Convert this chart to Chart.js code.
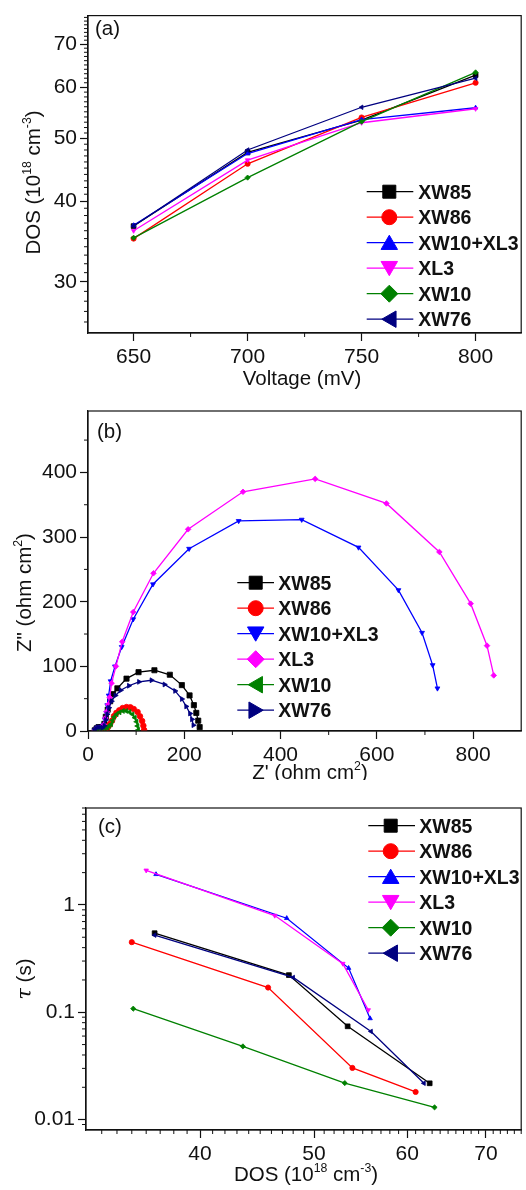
<!DOCTYPE html>
<html><head><meta charset="utf-8">
<script src="https://cdn.jsdelivr.net/npm/chart.js@4"></script>
<style>
html,body{margin:0;padding:0;background:#fff;width:526px;height:1190px;overflow:hidden}
.p{position:absolute;left:0;width:526px}
canvas{display:block}
</style></head><body>
<div class="p" style="top:0;height:390px"><canvas id="ca" width="526" height="390"></canvas></div>
<div class="p" style="top:390px;height:390px"><canvas id="cb" width="526" height="390"></canvas></div>
<div class="p" style="top:780px;height:410px"><canvas id="cc" width="526" height="410"></canvas></div>
<script>
// ---------------- DATA ----------------
const seriesNames = ['XW85', 'XW86', 'XW10+XL3', 'XL3', 'XW10', 'XW76'];
const voltages = [650, 700, 750, 800];

// (a) DOS (10^18 cm^-3) vs voltage
const dosXW85   = [36.6, 47.6, 53.4, 62.7];
const dosXW86   = [35.0, 45.7, 53.9, 61.0];
const dosXW10XL3 = [36.7, 47.4, 53.5, 55.8];
const dosXL3    = [36.0, 46.3, 52.9, 55.6];
const dosXW10   = [35.1, 43.5, 53.1, 63.3];
const dosXW76   = [36.6, 48.0, 55.9, 62.0];

// (b) Nyquist: [Z', Z''] (ohm cm2)
const eisXW85 = [[14,1],[18,4],[22,6],[27,6],[31,6],[34,11],[37,22],[41,33],[46,46],[52,57],[61,66],[80,81],[105,91],[138,94],[170,87],[195,71],[211,55],[220,40],[225,28],[229,16],[232,6]];
const eisXW86 = [[16,1],[20,3],[25,4],[30,4],[35,3],[40,4],[43,8],[46,11],[50,16],[54,23],[59,28],[65,32],[72,35.5],[80,37],[88,36.7],[95,34],[103,29.4],[108,22.7],[112.5,15.5],[115,8.2],[116.6,1.5]];
const eisXW10XL3 = [[14,1],[18,4],[23,5],[28,5],[32,9],[35,18],[38,28],[40,40],[43,55],[47,77],[56,100],[70,130],[94,173],[135,227],[210,282],[313,325],[444,327],[562,284],[645,218],[694,152],[716,102],[726,66]];
const eisXL3 = [[14,1],[18,4],[23,5],[28,5],[33,10],[36,20],[39,30],[42,41],[45,52],[49,74],[58,100],[71,138],[94,184],[136,244],[208,312],[322,370],[472,390],[620,352],[730,277],[795,197],[829,132],[843,86]];
const eisXW10 = [[16,1],[20,3],[25,4],[30,4],[35,4],[40,5],[44,8],[48,10.4],[51,16.5],[54.4,21.7],[59.4,25.8],[65.6,28.9],[72.5,31],[79.4,31],[86.2,29.4],[92.5,25.8],[97.3,20.6],[100.8,14.4],[102.8,7.7],[104.2,1.5]];
const eisXW76 = [[13,1],[16,4],[20,6],[25,6],[30,5],[34,8],[37,17],[40,26],[43.5,36],[49,46],[57,55],[68,63],[85,70],[106,76],[132,78.5],[159,72],[181,62],[195,49.5],[204,38],[212,27],[216,18],[219,9]];

// (c) lifetime tau (s) vs DOS
const tauXW85   = [0.545, 0.222, 0.074, 0.0218];
const tauXW86   = [0.45, 0.17, 0.0303, 0.0181];
const tauXW10XL3 = [1.93, 0.752, 0.258, 0.0876];
const tauXL3    = [2.10, 0.796, 0.284, 0.105];
const tauXW10   = [0.108, 0.0481, 0.0219, 0.0130];
const tauXW76   = [0.523, 0.211, 0.0663, 0.0218];

// tick labels
const ticksAX = [650, 700, 750, 800];
const ticksAY = [30, 40, 50, 60, 70];
const ticksBX = [0, 200, 400, 600, 800];
const ticksBY = [0, 100, 200, 300, 400];
const ticksCX = [40, 50, 60, 70];
const ticksCY = [0.01, 0.1, 1];

// ---------------- STYLE ----------------
const colors = ['#000000', '#ff0000', '#0000ff', '#ff00ff', '#008000', '#000080'];
const shapesAC = [['rect',0], ['circle',0], ['triangle',0], ['triangle',180], ['rectRot',0], ['triangle',270]];
const shapesB  = [['rect',0], ['circle',0], ['triangle',180], ['rectRot',0], ['triangle',270], ['triangle',90]];
const FONT = "'Liberation Sans', Arial, sans-serif";

const dosAll = [dosXW85, dosXW86, dosXW10XL3, dosXL3, dosXW10, dosXW76];
const tauAll = [tauXW85, tauXW86, tauXW10XL3, tauXL3, tauXW10, tauXW76];
const eisAll = [eisXW85, eisXW86, eisXW10XL3, eisXL3, eisXW10, eisXW76];

function mkDatasets(pointsPerSeries, shapes, radius) {
  return seriesNames.map((name, i) => ({
    label: name,
    data: pointsPerSeries[i],
    borderColor: colors[i],
    backgroundColor: colors[i],
    borderWidth: 1.3,
    pointStyle: shapes[i][0],
    pointRotation: shapes[i][1],
    pointRadius: shapes[i][0] === 'rect' ? radius * 1.3 : radius,
    pointBorderWidth: 0.8,
    tension: 0,
    fill: false,
    order: -i
  }));
}

function drawMarker(ctx, shape, rot, x, y, color) {
  ctx.save();
  ctx.fillStyle = color; ctx.strokeStyle = color; ctx.lineWidth = 1;
  ctx.translate(x, y);
  ctx.rotate(rot * Math.PI / 180);
  ctx.beginPath();
  if (shape === 'rect') { ctx.rect(-6.5, -6.5, 13, 13); }
  else if (shape === 'circle') { ctx.arc(0, 0, 7.5, 0, Math.PI * 2); }
  else if (shape === 'rectRot') { ctx.moveTo(0, -8.5); ctx.lineTo(8.5, 0); ctx.lineTo(0, 8.5); ctx.lineTo(-8.5, 0); ctx.closePath(); }
  else if (shape === 'triangle') { const R = 9.5; for (let k = 0; k < 3; k++) { const a = -Math.PI/2 + k * 2*Math.PI/3; if (k===0) ctx.moveTo(R*Math.cos(a), R*Math.sin(a)+2); else ctx.lineTo(R*Math.cos(a), R*Math.sin(a)+2); } ctx.closePath(); }
  ctx.fill(); ctx.stroke();
  ctx.restore();
}

// rich text: parts = [[text, kind]] kind: '' normal, 'sup', 'it'
function fontFor(k, size) {
  if (k === 'sup') return (size * 0.6) + 'px ' + FONT;
  if (k === 'it') return 'italic ' + size + 'px ' + "'DejaVu Serif', serif";
  return size + 'px ' + FONT;
}
function richWidth(ctx, parts, size) {
  let w = 0;
  parts.forEach(([t, k]) => { ctx.font = fontFor(k, size); w += ctx.measureText(t).width; });
  return w;
}
function drawRich(ctx, parts, cx, baseY, size, rotate) {
  ctx.save();
  ctx.fillStyle = '#111';
  ctx.textBaseline = 'alphabetic';
  ctx.textAlign = 'left';
  ctx.translate(cx, baseY);
  if (rotate) ctx.rotate(-Math.PI / 2);
  const w = richWidth(ctx, parts, size);
  let x = -w / 2;
  parts.forEach(([t, k]) => {
    ctx.font = fontFor(k, size);
    ctx.fillText(t, x, k === 'sup' ? -size * 0.42 : 0);
    x += ctx.measureText(t).width;
  });
  ctx.restore();
}

function decoPlugin(cfg) {
  return {
    id: 'deco',
    afterDraw(chart) {
      const ctx = chart.ctx, a = chart.chartArea;
      const xs = chart.scales.x, ys = chart.scales.y;
      ctx.save();
      // frame
      ctx.strokeStyle = '#111'; ctx.lineWidth = 1.2;
      ctx.strokeRect(a.left, a.top, a.right - a.left, a.bottom - a.top);
      // minor ticks
      ctx.lineWidth = 1;
      ctx.beginPath();
      cfg.minorX.forEach(v => { const p = xs.getPixelForValue(v); if (p >= a.left - 0.5 && p <= a.right + 0.5) { ctx.moveTo(p, a.bottom); ctx.lineTo(p, a.bottom + 4); } });
      cfg.minorY.forEach(v => { const p = ys.getPixelForValue(v); if (p >= a.top - 0.5 && p <= a.bottom + 0.5) { ctx.moveTo(a.left, p); ctx.lineTo(a.left - 4, p); } });
      ctx.stroke();
      // panel label
      ctx.fillStyle = '#111'; ctx.font = '20.5px ' + FONT; ctx.textAlign = 'left'; ctx.textBaseline = 'alphabetic';
      ctx.fillText(cfg.panel, cfg.panelX, cfg.panelY);
      // axis titles
      drawRich(ctx, cfg.xTitle, cfg.xTitlePos[0], cfg.xTitlePos[1], 20.5, false);
      drawRich(ctx, cfg.yTitle, cfg.yTitlePos[0], cfg.yTitlePos[1], 20.5, true);
      // legend
      const L = cfg.legend;
      seriesNames.forEach((name, i) => {
        const y = L.y0 + i * L.dy;
        ctx.strokeStyle = colors[i]; ctx.lineWidth = 1.3;
        ctx.beginPath(); ctx.moveTo(L.x1, y); ctx.lineTo(L.x2, y); ctx.stroke();
        drawMarker(ctx, cfg.shapes[i][0], cfg.shapes[i][1], L.mx, y, colors[i]);
        ctx.fillStyle = '#111'; ctx.font = 'bold 19.5px ' + FONT; ctx.textAlign = 'left'; ctx.textBaseline = 'alphabetic';
        ctx.fillText(name, L.tx, y + 7);
      });
      ctx.restore();
    }
  };
}

function axis(type, min, max, ticksArr, fit, isX, pad) {
  return {
    type, min, max,
    afterFit: s => { if (isX) s.height = fit; else s.width = fit; },
    afterBuildTicks: s => { s.ticks = ticksArr.map(v => ({ value: v })); },
    ticks: { font: { family: FONT, size: 21 }, color: '#111', padding: pad, autoSkip: false, maxRotation: 0, minRotation: 0,
             callback: v => String(v) },
    grid: { drawOnChartArea: false, drawTicks: true, tickLength: 8, tickColor: '#111', tickWidth: 1.2 },
    border: { display: true, color: '#111', width: 1.2 }
  };
}

function intsBetween(lo, hi, skip) { const r = []; for (let v = lo; v <= hi; v++) if (!skip.includes(v)) r.push(v); return r; }

// ---------------- CHART A ----------------
new Chart(document.getElementById('ca'), {
  type: 'line',
  data: { datasets: mkDatasets(dosAll.map(d => voltages.map((v, j) => ({ x: v, y: d[j] }))), shapesAC, 2.6) },
  options: {
    responsive: false, animation: false, devicePixelRatio: 1,
    layout: { padding: { top: 13, right: 4, left: 0, bottom: 0 } },
    plugins: { legend: { display: false }, tooltip: { enabled: false } },
    scales: {
      x: axis('linear', 630, 820, ticksAX, 57, true, 4),
      y: axis('logarithmic', 25, 77.5, ticksAY, 88, false, 3)
    }
  },
  plugins: [decoPlugin({
    minorX: [675, 725, 775],
    minorY: intsBetween(26, 77, ticksAY),
    panel: '(a)', panelX: 95, panelY: 34.5,
    xTitle: [['Voltage (mV)', '']], xTitlePos: [302, 384.5],
    yTitle: [['DOS (10', ''], ['18', 'sup'], [' cm', ''], ['-3', 'sup'], [')', '']], yTitlePos: [39.5, 182.5],
    shapes: shapesAC,
    legend: { y0: 191.7, dy: 25.5, x1: 366.7, x2: 413.3, mx: 389.3, tx: 418.3 }
  })]
});

// ---------------- CHART B ----------------
new Chart(document.getElementById('cb'), {
  type: 'line',
  data: { datasets: mkDatasets(eisAll.map(d => d.map(p => ({ x: p[0], y: p[1] }))), shapesB, 2.8) },
  options: {
    responsive: false, animation: false, devicePixelRatio: 1,
    layout: { padding: { top: 21, right: 4, left: 0, bottom: 0 } },
    plugins: { legend: { display: false }, tooltip: { enabled: false } },
    scales: {
      x: axis('linear', 0, 900, ticksBX, 49, true, 4),
      y: axis('linear', 0, 495, ticksBY, 88, false, 3)
    }
  },
  plugins: [decoPlugin({
    minorX: [100, 300, 500, 700],
    minorY: [50, 150, 250, 350, 450],
    panel: '(b)', panelX: 97, panelY: 47.5,
    xTitle: [["Z' (ohm cm", ''], ['2', 'sup'], [')', '']], xTitlePos: [310, 389],
    yTitle: [['Z" (ohm cm', ''], ['2', 'sup'], [')', '']], yTitlePos: [31, 202.5],
    shapes: shapesB,
    legend: { y0: 192.7, dy: 25.5, x1: 237.3, x2: 274, mx: 255.7, tx: 278.3 }
  })]
});

// ---------------- CHART C ----------------
new Chart(document.getElementById('cc'), {
  type: 'line',
  data: { datasets: mkDatasets(dosAll.map((d, i) => d.map((x, j) => ({ x: x, y: tauAll[i][j] }))), shapesAC, 2.6) },
  options: {
    responsive: false, animation: false, devicePixelRatio: 1,
    layout: { padding: { top: 28, right: 4, left: 0, bottom: 0 } },
    plugins: { legend: { display: false }, tooltip: { enabled: false } },
    scales: {
      x: axis('logarithmic', 32, 75, ticksCX, 60, true, 4),
      y: axis('logarithmic', 0.008, 8, ticksCY, 86, false, 3)
    }
  },
  plugins: [decoPlugin({
    minorX: intsBetween(33, 75, ticksCX),
    minorY: [0.009, 0.02, 0.03, 0.04, 0.05, 0.06, 0.07, 0.08, 0.09, 0.2, 0.3, 0.4, 0.5, 0.6, 0.7, 0.8, 0.9, 2, 3, 4, 5, 6, 7, 8],
    panel: '(c)', panelX: 98, panelY: 52.5,
    xTitle: [['DOS (10', ''], ['18', 'sup'], [' cm', ''], ['-3', 'sup'], [')', '']], xTitlePos: [306, 401],
    yTitle: [['\u03C4', 'it'], [' (s)', '']], yTitlePos: [31, 199],
    shapes: shapesAC,
    legend: { y0: 45.7, dy: 25.5, x1: 368.3, x2: 415, mx: 390.7, tx: 419.3 }
  })]
});
</script>
</body></html>
